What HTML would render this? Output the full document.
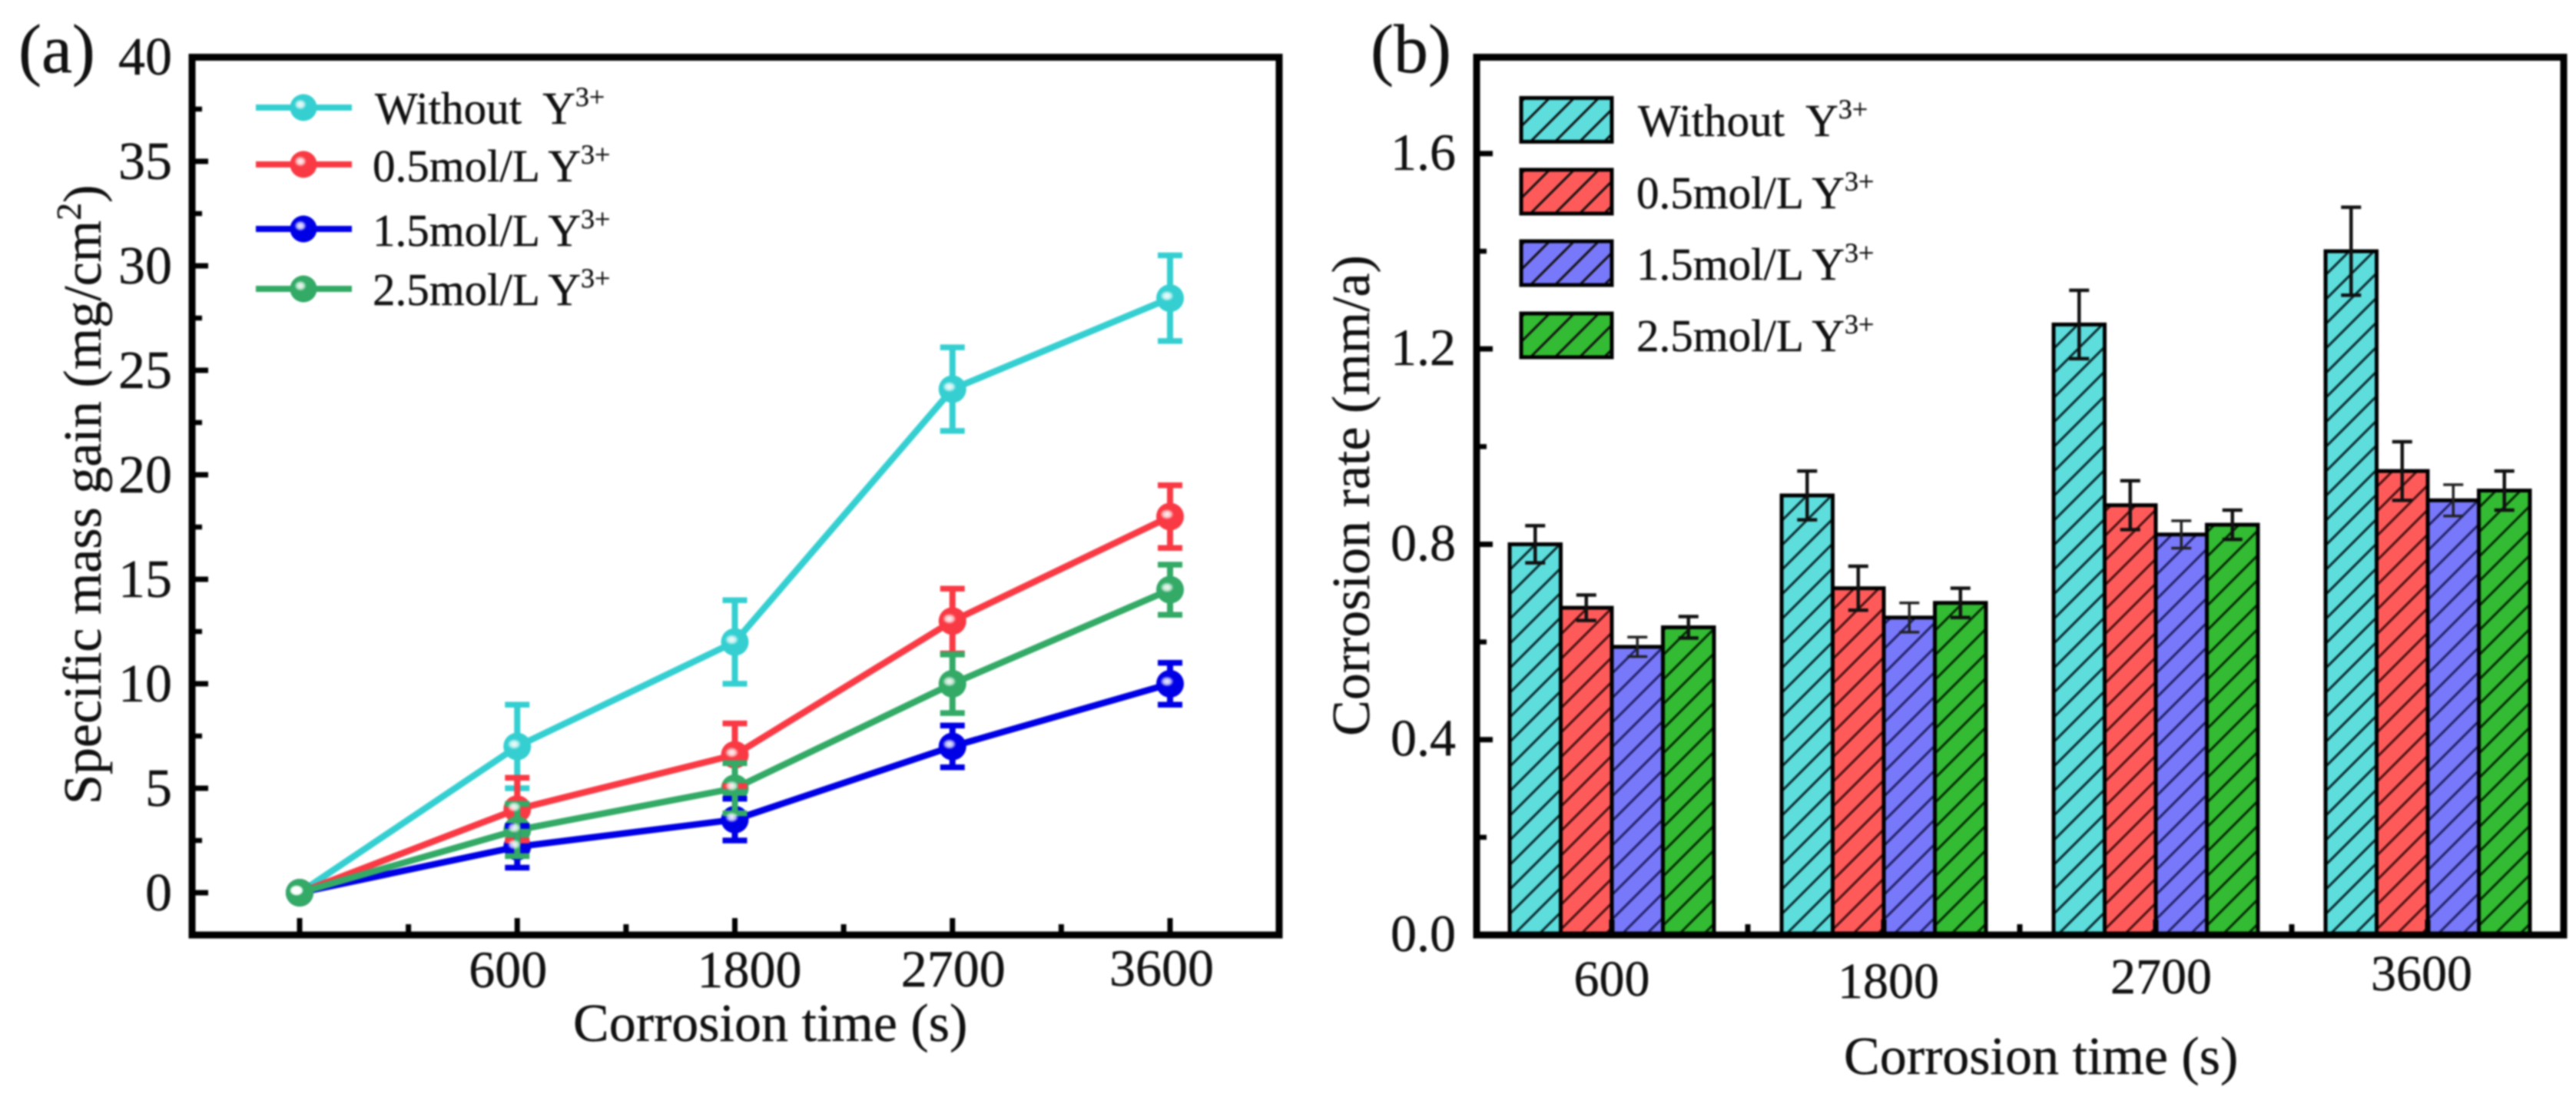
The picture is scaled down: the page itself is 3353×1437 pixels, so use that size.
<!DOCTYPE html>
<html lang="en">
<head>
<meta charset="utf-8">
<title>Specific mass gain and corrosion rate charts</title>
<style>
html,body{margin:0;padding:0;background:#fff;width:3353px;height:1437px;overflow:hidden}
svg{display:block;filter:blur(1px)}
text{font-family:"Liberation Serif","Times New Roman",serif;fill:#111;stroke:#111;stroke-width:.4px}
</style>
</head>
<body>
<svg id="figure" xmlns="http://www.w3.org/2000/svg" width="3353" height="1437" viewBox="0 0 3353 1437">
  <defs>
    <pattern id="hatch-cyan" patternUnits="userSpaceOnUse" width="32" height="32" patternTransform="translate(5 0)"><path d="M-4 4L4 -4M0 32L32 0M28 36L36 28" stroke="#0a2a2a" stroke-width="3"/></pattern>
    <pattern id="hatch-red" patternUnits="userSpaceOnUse" width="32" height="32" patternTransform="translate(25 0)"><path d="M-4 4L4 -4M0 32L32 0M28 36L36 28" stroke="#4a1010" stroke-width="3"/></pattern>
    <pattern id="hatch-blue" patternUnits="userSpaceOnUse" width="32" height="32" patternTransform="translate(12 0)"><path d="M-4 4L4 -4M0 32L32 0M28 36L36 28" stroke="#222266" stroke-width="3"/></pattern>
    <pattern id="hatch-green" patternUnits="userSpaceOnUse" width="32" height="32" patternTransform="translate(20 0)"><path d="M-4 4L4 -4M0 32L32 0M28 36L36 28" stroke="#062a06" stroke-width="3"/></pattern>
    <pattern id="hatch-legend" patternUnits="userSpaceOnUse" width="32" height="32" patternTransform="translate(12 0)"><path d="M-4 4L4 -4M0 32L32 0M28 36L36 28" stroke="#111" stroke-width="3"/></pattern>
    <radialGradient id="marker-shine"><stop offset="0" stop-color="#fff" stop-opacity=".95"/><stop offset=".55" stop-color="#fff" stop-opacity=".7"/><stop offset="1" stop-color="#fff" stop-opacity="0"/></radialGradient>
  </defs>

  <g id="panel-a">
    <text x="24" y="94" font-size="90">(a)</text>
    <text transform="translate(131 1047) rotate(-90)" font-size="70">Specific mass gain (mg/cm<tspan dy="-26" font-size="46">2</tspan><tspan dy="26">)</tspan></text>
    <text x="746" y="1355" font-size="70">Corrosion time (s)</text>
    <g id="plot-a"></g>
    <g>
      <g id="legend-a-keys"></g>
      <text x="488" y="161" font-size="59">Without&#160; Y<tspan dy="-23" font-size="36">3+</tspan></text>
      <text x="485" y="236" font-size="59">0.5mol/L Y<tspan dy="-23" font-size="36">3+</tspan></text>
      <text x="485" y="320" font-size="59">1.5mol/L Y<tspan dy="-23" font-size="36">3+</tspan></text>
      <text x="485" y="397" font-size="59">2.5mol/L Y<tspan dy="-23" font-size="36">3+</tspan></text>
    </g>
  </g>

  <g id="panel-b">
    <text x="1784" y="94" font-size="90">(b)</text>
    <text transform="translate(1782 958) rotate(-90)" font-size="70">Corrosion rate (mm/a)</text>
    <text x="2400" y="1398" font-size="70">Corrosion time (s)</text>
    <g id="plot-b"></g>
    <g>
      <g id="legend-b-keys"></g>
      <text x="2132" y="177" font-size="59">Without&#160; Y<tspan dy="-23" font-size="36">3+</tspan></text>
      <text x="2130" y="271" font-size="59">0.5mol/L Y<tspan dy="-23" font-size="36">3+</tspan></text>
      <text x="2130" y="364" font-size="59">1.5mol/L Y<tspan dy="-23" font-size="36">3+</tspan></text>
      <text x="2130" y="457" font-size="59">2.5mol/L Y<tspan dy="-23" font-size="36">3+</tspan></text>
    </g>
  </g>
</svg>

<script>
// ---- Panel (a) data ----
const categoriesA = ['', '600', '1800', '2700', '3600'];
const yTicksA = [0, 5, 10, 15, 20, 25, 30, 35, 40];
const yMinorTicksA = [2.5, 7.5, 12.5, 17.5, 22.5, 27.5, 32.5, 37.5];
const massWithout = [0, 7, 12, 24.1, 28.45];
const massHalf = [0, 4, 6.6, 13, 18];
const massOneHalf = [0, 2.2, 3.5, 7, 10];
const massTwoHalf = [0, 3, 5, 10, 14.5];
const massErrWithout = [0, 2, 2, 2, 2.05];
const massErrHalf = [0, 1.5, 1.5, 1.55, 1.5];
const massErrOneHalf = [0, 1, 1, 1, 1];
const massErrTwoHalf = [0, 1.25, 1.2, 1.4, 1.2];

// ---- Panel (b) data ----
const categoriesB = ['600', '1800', '2700', '3600'];
const yTicksB = [0, 0.4, 0.8, 1.2, 1.6];
const yMinorTicksB = [0.2, 0.6, 1.0, 1.4];
const rateWithout = [0.8, 0.9, 1.25, 1.4];
const rateHalf = [0.67, 0.71, 0.88, 0.95];
const rateOneHalf = [0.59, 0.65, 0.82, 0.89];
const rateTwoHalf = [0.63, 0.68, 0.84, 0.91];
const rateErrWithout = [0.038, 0.05, 0.07, 0.09];
const rateErrHalf = [0.026, 0.045, 0.05, 0.06];
const rateErrOneHalf = [0.02, 0.03, 0.028, 0.032];
const rateErrTwoHalf = [0.022, 0.03, 0.03, 0.04];

// ---- Layout (not data) ----
const NS = 'http://www.w3.org/2000/svg';
const labelShiftA = [0, -12, 19, 1, -11];
const labelDropA = [0, 0, 0, -1, -2];
const labelShiftB = [0, 6, 7, -8];
const labelBaseB = [1296, 1299, 1293, 1289];

const frameA = {left: 250, right: 1665, top: 74.5, bottom: 1217};
const frameB = {left: 1922, right: 3337, top: 74.5, bottom: 1217};
const xA = i => 390 + 283.25 * i;
const yA = v => 1162 - 27.2 * v;
const groupB = i => 2098 + 354 * i;
const yB = v => 1217 - 635.7 * v;
const BAR_W = 66.5;

function mk(tag, parent, attrs) {
  const el = document.createElementNS(NS, tag);
  for (const k in attrs) el.setAttribute(k, attrs[k]);
  parent.appendChild(el);
  return el;
}

function drawFrame(parent, f, name) {
  const r = mk('rect', parent, {x: f.left, y: f.top, width: f.right - f.left, height: f.bottom - f.top, fill: 'none', stroke: '#000', 'stroke-width': 9});
  
  
}

function seg(parent, x1, y1, x2, y2, color, w, name) {
  const l = mk('line', parent, {x1, y1, x2, y2, stroke: color, 'stroke-width': w});
  
  
  return l;
}

// ---- Panel (a) drawing ----
const plotA = document.getElementById('plot-a');
const seriesA = [
  {key: 'without', color: '#35CFD1', values: massWithout, errs: massErrWithout},
  {key: 'half-mol', color: '#F93A44', values: massHalf, errs: massErrHalf},
  {key: 'one-half-mol', color: '#0000E6', values: massOneHalf, errs: massErrOneHalf},
  {key: 'two-half-mol', color: '#33AA66', values: massTwoHalf, errs: massErrTwoHalf}
];

drawFrame(plotA, frameA, 'plot-frame-a');
yTicksA.forEach(v => {
  seg(plotA, frameA.left, yA(v), frameA.left + 21, yA(v), '#000', 7, 'y-tick-a');
  const t = mk('text', plotA, {x: 224, y: yA(v) + 23, 'font-size': 70, 'text-anchor': 'end'});
  t.textContent = String(v);
  
  
});
yMinorTicksA.forEach(v => {
  seg(plotA, frameA.left, yA(v), frameA.left + 13, yA(v), '#000', 6.5, 'y-minor-tick-a');
});
categoriesA.forEach((c, i) => {
  seg(plotA, xA(i), frameA.bottom, xA(i), frameA.bottom - 22, '#000', 7, 'x-tick-a');
  if (i < categoriesA.length - 1) {
    seg(plotA, xA(i + 0.5), frameA.bottom, xA(i + 0.5), frameA.bottom - 14, '#000', 7, 'x-minor-tick-a');
  }
  if (c) {
    const t = mk('text', plotA, {x: xA(i) + labelShiftA[i], y: 1285 + labelDropA[i], 'font-size': 68, 'text-anchor': 'middle'});
    t.textContent = c;
    
    
  }
});

// lines and markers first, then error bars, then marker highlights
seriesA.forEach(s => {
  const pts = s.values.map((v, i) => xA(i) + ',' + yA(v)).join(' ');
  const pl = mk('polyline', plotA, {points: pts, fill: 'none', stroke: s.color, 'stroke-width': 8.5, 'stroke-linejoin': 'round'});
  
  
  s.values.forEach((v, i) => {
    const c = mk('circle', plotA, {cx: xA(i), cy: yA(v), r: 18, fill: s.color});
    
    
  });
});
seriesA.forEach(s => {
  s.values.forEach((v, i) => {
    if (!s.errs[i]) return;
    const hi = yA(v + s.errs[i]), lo = yA(v - s.errs[i]);
    seg(plotA, xA(i), hi, xA(i), lo, s.color, 8, 'error-bar-' + s.key);
    seg(plotA, xA(i) - 16, hi, xA(i) + 16, hi, s.color, 7.5, 'error-cap-' + s.key);
    seg(plotA, xA(i) - 16, lo, xA(i) + 16, lo, s.color, 7.5, 'error-cap-' + s.key);
  });
});
seriesA.forEach(s => {
  s.values.forEach((v, i) => {
    const h = mk('ellipse', plotA, {cx: xA(i) - 4, cy: yA(v) - 3, rx: 9, ry: 7, fill: 'url(#marker-shine)'});
    
    
  });
});

const legendKeysA = document.getElementById('legend-a-keys');
[140, 214, 298, 376].forEach((ly, i) => {
  const s = seriesA[i];
  seg(legendKeysA, 333, ly, 458, ly, s.color, 8, 'legend-line-' + s.key);
  const c = mk('circle', legendKeysA, {cx: 395, cy: ly, r: 17.5, fill: s.color});
  
  
  const h = mk('ellipse', legendKeysA, {cx: 391, cy: ly - 4, rx: 8, ry: 7, fill: 'url(#marker-shine)'});
  
  
});

// ---- Panel (b) drawing ----
const plotB = document.getElementById('plot-b');
const seriesB = [
  {key: 'without', fill: '#5EDDDD', hatch: 'hatch-cyan', values: rateWithout, errs: rateErrWithout},
  {key: 'half-mol', fill: '#FF5A5A', hatch: 'hatch-red', values: rateHalf, errs: rateErrHalf},
  {key: 'one-half-mol', fill: '#7878FA', hatch: 'hatch-blue', values: rateOneHalf, errs: rateErrOneHalf},
  {key: 'two-half-mol', fill: '#33BB33', hatch: 'hatch-green', values: rateTwoHalf, errs: rateErrTwoHalf}
];

seriesB.forEach((s, si) => {
  s.values.forEach((v, i) => {
    const left = groupB(i) + (si - 2) * BAR_W;
    const h = yB(0) - yB(v);
    const g = mk('g', plotB, {transform: 'translate(' + left + ' ' + yB(0) + ')'});
    
    
    const base = mk('rect', g, {x: 0, y: -h, width: BAR_W, height: h, fill: s.fill});
    
    
    const hatch = mk('rect', g, {x: 0, y: -h, width: BAR_W, height: h, fill: 'url(#' + s.hatch + ')', stroke: '#000', 'stroke-width': 5});
    
    
  });
});
seriesB.forEach((s, si) => {
  s.values.forEach((v, i) => {
    const cx = groupB(i) + (si - 1.5) * BAR_W;
    const hi = yB(v + s.errs[i]), lo = yB(v - s.errs[i]);
    const col = si === 2 ? '#222' : '#111';
    const w = si === 2 ? 3.5 : 4.5;
    seg(plotB, cx, hi, cx, lo, col, w, 'error-bar-b-' + s.key);
    seg(plotB, cx - 13, hi, cx + 13, hi, col, w, 'error-cap-b-' + s.key);
    seg(plotB, cx - 13, lo, cx + 13, lo, col, w, 'error-cap-b-' + s.key);
  });
});

drawFrame(plotB, frameB, 'plot-frame-b');
yTicksB.forEach(v => {
  seg(plotB, frameB.left, yB(v), frameB.left + 21, yB(v), '#000', 7, 'y-tick-b');
  const t = mk('text', plotB, {x: 1895, y: yB(v) + 21, 'font-size': 68, 'text-anchor': 'end'});
  t.textContent = v.toFixed(1);
  
  
});
yMinorTicksB.forEach(v => {
  seg(plotB, frameB.left, yB(v), frameB.left + 13, yB(v), '#000', 6.5, 'y-minor-tick-b');
});
categoriesB.forEach((c, i) => {
  seg(plotB, groupB(i), frameB.bottom, groupB(i), frameB.bottom - 20, '#000', 7, 'x-tick-b');
  if (i < categoriesB.length - 1) {
    seg(plotB, groupB(i + 0.5), frameB.bottom, groupB(i + 0.5), frameB.bottom - 14, '#000', 7, 'x-minor-tick-b');
  }
  const t = mk('text', plotB, {x: groupB(i) + labelShiftB[i], y: labelBaseB[i], 'font-size': 66, 'text-anchor': 'middle'});
  t.textContent = c;
  
  
});

const legendKeysB = document.getElementById('legend-b-keys');
[184.5, 278, 371, 465].forEach((bottom, i) => {
  const s = seriesB[i];
  const g = mk('g', legendKeysB, {transform: 'translate(1980 ' + bottom + ')'});
  
  
  const base = mk('rect', g, {x: 0, y: -57, width: 118, height: 57, fill: s.fill});
  
  
  const hatch = mk('rect', g, {x: 0, y: -57, width: 118, height: 57, fill: 'url(#hatch-legend)', stroke: '#000', 'stroke-width': 5});
  
  
});
</script>
</body>
</html>
